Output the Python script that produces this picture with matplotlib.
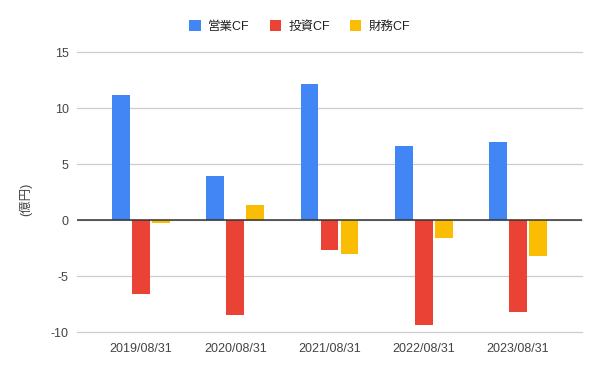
import numpy as np
import matplotlib.pyplot as plt

plt.rcParams['font.family'] = ['Liberation Sans', 'Noto Sans CJK JP', 'DejaVu Sans']
plt.rcParams['axes.unicode_minus'] = False

years = ["2019/08/31", "2020/08/31", "2021/08/31", "2022/08/31", "2023/08/31"]
eigyo = [11.2, 3.9, 12.1, 6.6, 7.0]
toshi = [-6.6, -8.5, -2.7, -9.4, -8.2]
zaimu = [-0.3, 1.3, -3.0, -1.6, -3.2]

series = [("営業CF", eigyo, "#4285F4"),
          ("投資CF", toshi, "#EA4335"),
          ("財務CF", zaimu, "#FBBC04")]

fig = plt.figure(figsize=(6, 3.71), dpi=100)
ax = fig.add_axes([0.1283, 0.1051, 0.97 - 0.1283, 0.8598 - 0.1051])

x = np.arange(len(years))
w = 0.19
step = 0.212
for i, (name, vals, col) in enumerate(series):
    ax.bar(x + (i - 1) * step, vals, width=w, color=col, label=name, zorder=3)

ax.set_xlim(-0.68, 4.68)
ax.set_ylim(-10, 15)
ax.set_yticks([-10, -5, 0, 5, 10, 15])
ax.set_xticks(x)
ax.set_xticklabels(years)
ax.grid(axis='y', color='#cccccc', linewidth=0.9, zorder=0)
for gl in ax.get_ygridlines():
    gl.set_clip_on(False)
ax.axhline(0, color='#333333', linewidth=1.1, zorder=4)
for s in ax.spines.values():
    s.set_visible(False)
ax.tick_params(length=0, labelsize=9, colors='#444444', pad=6)
ax.tick_params(axis='x', pad=8)

# y label as figure text so it sits where the reference has it
fig.text(26 / 600, 1 - 199 / 371, "(億円)", rotation=90, ha='center', va='center',
         fontsize=9, color='#444444')

fig.legend(loc='center', bbox_to_anchor=(0.5, 0.928), ncol=3, frameon=False,
           fontsize=9, handlelength=0.9, handleheight=0.9, handletextpad=0.6,
           columnspacing=1.6, labelcolor='#222222')

fig.savefig("out.png", dpi=100)
